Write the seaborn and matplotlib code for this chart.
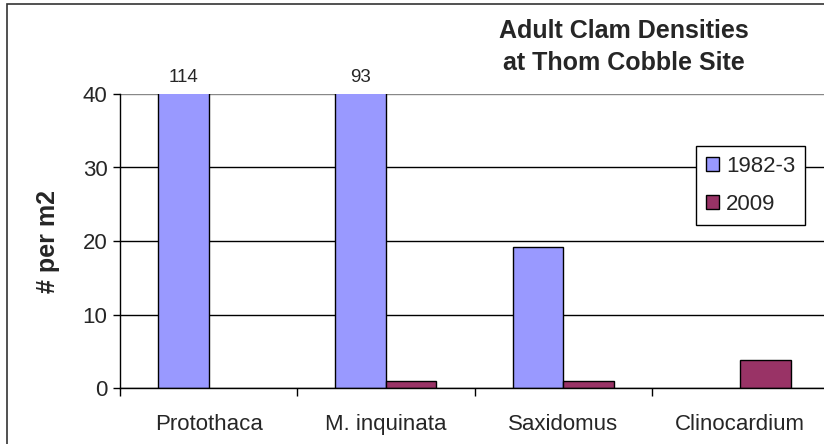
import matplotlib
matplotlib.use("Agg")
import matplotlib.pyplot as plt
import pandas as pd
import seaborn as sns
from matplotlib.patches import Rectangle
from matplotlib.ticker import FixedLocator

species = ["Protothaca", "M. inquinata", "Saxidomus", "Clinocardium"]
years = ["1982-3", "2009"]
density_1982 = [114, 93, 19.2, 0]
density_2009 = [0, 1, 1, 3.8]
colors = ["#9999FF", "#993366"]
y_max = 40

df = pd.DataFrame({
    "species": species * 2,
    "year": [years[0]] * len(species) + [years[1]] * len(species),
    "density": density_1982 + density_2009,
})

sns.set_theme(style="white")
plt.rcParams["font.family"] = ["Liberation Sans", "DejaVu Sans"]

fig = plt.figure(figsize=(8.24, 4.44), dpi=100)
ax = fig.add_axes([120 / 824, 56 / 444, 709 / 824, 294 / 444])

sns.barplot(data=df, x="species", y="density", hue="year", palette=colors,
            width=0.57, edgecolor="black", linewidth=1, saturation=1,
            legend=False, ax=ax)

# empty bars show nothing in the original
for bar in ax.patches:
    if bar.get_height() == 0:
        bar.set_visible(False)

ax.set_ylim(0, y_max)
ax.set_xlim(-0.5, len(species) - 0.5)
ax.set_yticks(range(0, y_max + 1, 10))
ax.tick_params(axis="y", labelsize=16, direction="out", length=5, width=1,
               color="black", left=True, pad=4)
ax.tick_params(axis="x", which="major", labelsize=16, length=0, pad=19)
ax.xaxis.set_minor_locator(FixedLocator([i - 0.5 for i in range(len(species) + 1)]))
ax.tick_params(axis="x", which="minor", direction="out", length=6, width=1,
               color="black", bottom=True)
ax.set_xlabel("")
ax.set_ylabel("# per m2", fontsize=18, fontweight="bold", labelpad=16)

ax.grid(axis="y", color="black", linewidth=1)
ax.get_ygridlines()[-1].set_color("#888888")
ax.set_axisbelow(True)
for side in ["top", "right"]:
    ax.spines[side].set_visible(False)
for side in ["left", "bottom"]:
    ax.spines[side].set_color("black")
    ax.spines[side].set_linewidth(1)

# values above the axis limit are written over the cut bars
for bar in ax.patches:
    h = bar.get_height()
    if h > y_max:
        ax.annotate(f"{h:.0f}", (bar.get_x() + bar.get_width() / 2, y_max),
                    xytext=(0, 6), textcoords="offset points",
                    ha="center", va="bottom", fontsize=13.5, annotation_clip=False)

handles = [Rectangle((0, 0), 1, 1, facecolor=c, edgecolor="black", linewidth=1)
           for c in colors]
ax.legend(handles, years, loc="upper left", bbox_to_anchor=(696 / 824, 1 - 146 / 444),
          bbox_transform=fig.transFigure, frameon=True, fancybox=False,
          edgecolor="black", fontsize=16, handlelength=0.6, handleheight=0.6,
          handletextpad=0.3, borderpad=0.45, labelspacing=0.75, borderaxespad=0,
          framealpha=1)
ax.get_legend().get_frame().set_linewidth(1)

fig.text(624 / 824, 1 - 47 / 444, "Adult Clam Densities\nat Thom Cobble Site",
         ha="center", va="center", fontsize=18, fontweight="bold", linespacing=1.45)

fig.patches.append(Rectangle((7.5 / 824, -0.05), 1.2, 1.05 - 4.5 / 444,
                             transform=fig.transFigure, fill=False,
                             edgecolor="#333333", linewidth=1.2))

fig.savefig("out.png", dpi=100)
